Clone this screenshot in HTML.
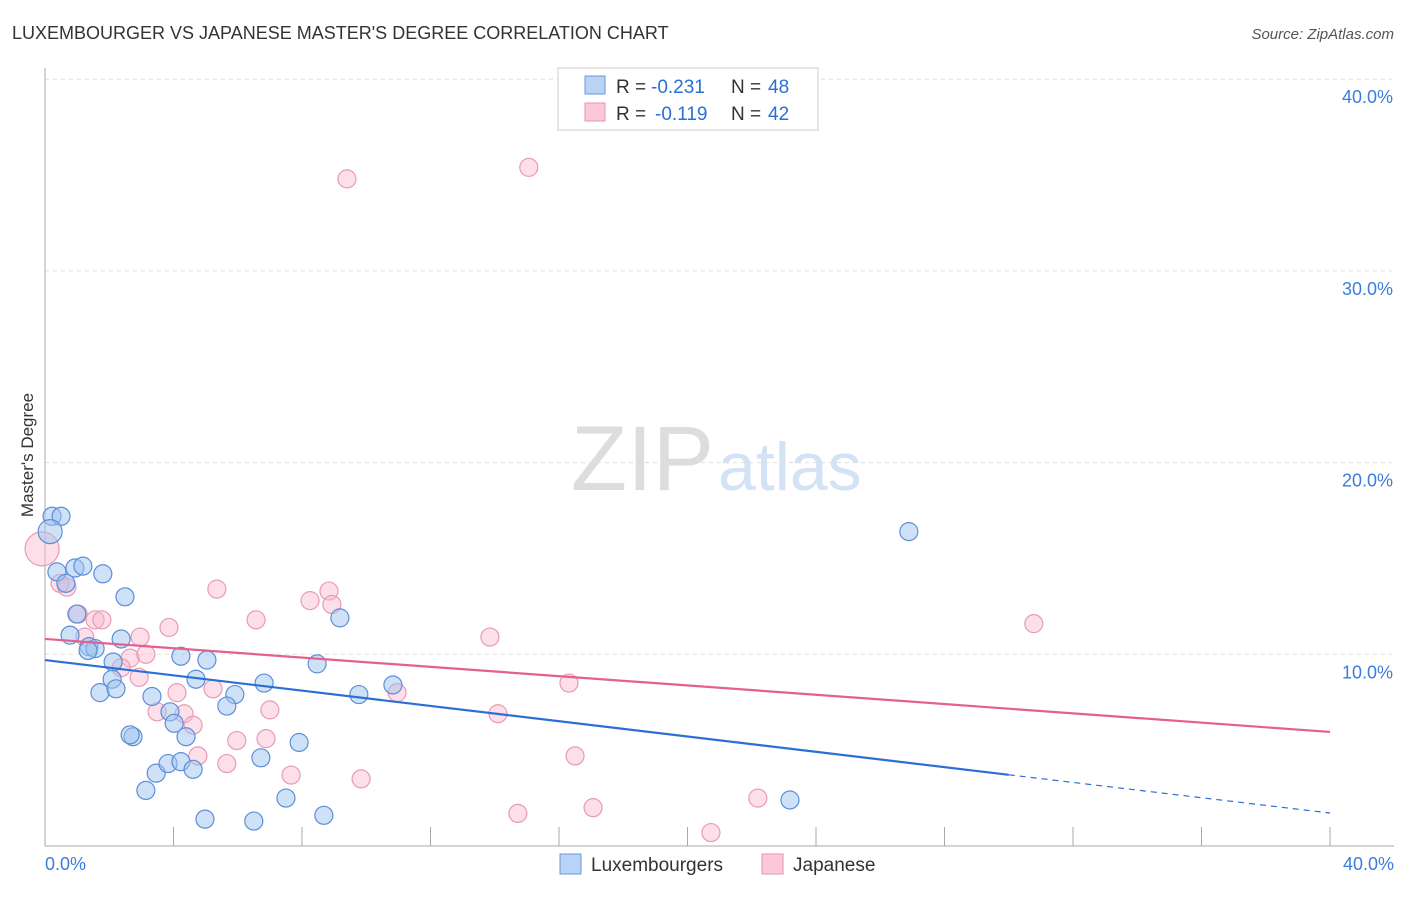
<!DOCTYPE html>
<html><head><meta charset="utf-8">
<style>
body{margin:0;background:#fff;font-family:"Liberation Sans",sans-serif;}
svg text{font-family:"Liberation Sans",sans-serif;}
</style></head>
<body>
<svg id="chart" width="1406" height="892" xmlns="http://www.w3.org/2000/svg">
<text x="12" y="39" font-size="18" fill="#333">LUXEMBOURGER VS JAPANESE MASTER'S DEGREE CORRELATION CHART</text>
<text x="1394" y="39" font-size="15" fill="#555" font-style="italic" text-anchor="end">Source: ZipAtlas.com</text>
<text transform="translate(33,455) rotate(-90)" font-size="17" fill="#333" text-anchor="middle">Master's Degree</text>
<text x="714" y="490" font-size="92" fill="#ddd" text-anchor="end" font-family="Liberation Serif">ZIP</text>
<text x="718" y="490" font-size="68" fill="#d3e2f5">atlas</text>
<g id="grid"></g><g id="axes"></g><g id="marks"></g>
<g>
<rect x="558" y="68" width="260" height="62" fill="#fff" stroke="#ccc"/>
<rect x="585" y="76" width="20" height="18" fill="#b8d3f5" stroke="#6a9ad8"/>
<rect x="585" y="103" width="20" height="18" fill="#fbc9da" stroke="#e890ae"/>
<text x="616" y="93" font-size="19" fill="#333">R =</text>
<text x="651" y="93" font-size="19" fill="#2a6fd6">-0.231</text>
<text x="731" y="93" font-size="19" fill="#333">N =</text>
<text x="768" y="93" font-size="19" fill="#2a6fd6">48</text>
<text x="616" y="120" font-size="19" fill="#333">R =</text>
<text x="655" y="120" font-size="19" fill="#2a6fd6">-0.119</text>
<text x="731" y="120" font-size="19" fill="#333">N =</text>
<text x="768" y="120" font-size="19" fill="#2a6fd6">42</text>
</g>
<g>
<rect x="560" y="854" width="21" height="20" fill="#b8d3f5" stroke="#6a9ad8"/>
<text x="591" y="871" font-size="19" fill="#333">Luxembourgers</text>
<rect x="762" y="854" width="21" height="20" fill="#fbc9da" stroke="#e890ae"/>
<text x="793" y="871" font-size="19" fill="#333">Japanese</text>
</g>
</svg>
<script>
const blueX=[0.22,0.5,0.16,0.37,0.93,1.18,1.8,0.65,2.49,0.99,0.78,2.37,1.37,1.56,1.34,2.12,4.23,5.04,2.09,1.71,2.21,3.33,4.7,5.91,6.82,8.47,9.77,10.83,5.66,3.89,4.02,4.39,2.74,2.65,7.91,6.72,3.46,3.83,4.23,4.61,3.14,7.5,4.98,6.5,8.68,23.19,26.89,9.18];
const blueY=[17.2,17.2,16.4,14.3,14.5,14.6,14.2,13.7,13.0,12.1,11.0,10.8,10.4,10.3,10.2,9.6,9.9,9.7,8.7,8.0,8.2,7.8,8.7,7.9,8.5,9.5,7.9,8.4,7.3,7.0,6.4,5.7,5.7,5.8,5.4,4.6,3.8,4.3,4.4,4.0,2.9,2.5,1.4,1.3,1.6,2.4,16.4,11.9];
const pinkX=[-0.09,0.47,0.68,1.03,1.56,1.77,1.24,2.96,2.65,3.14,3.86,5.35,6.57,8.25,8.84,8.93,13.85,30.78,9.4,15.06,2.37,2.93,3.49,4.11,4.33,5.23,4.61,7.0,6.88,5.97,4.76,5.66,7.66,9.84,10.96,14.1,16.31,16.5,14.72,17.06,22.19,20.73];
const pinkY=[15.5,13.7,13.5,12.1,11.8,11.8,10.9,10.9,9.8,10.0,11.4,13.4,11.8,12.8,13.3,12.6,10.9,11.6,34.8,35.4,9.3,8.8,7.0,8.0,6.9,8.2,6.3,7.1,5.6,5.5,4.7,4.3,3.7,3.5,8.0,6.9,8.5,4.7,1.7,2.0,2.5,0.7];
const blueR=[9,9,12,9,9,9,9,9,9,9,9,9,9,9,9,9,9,9,9,9,9,9,9,9,9,9,9,9,9,9,9,9,9,9,9,9,9,9,9,9,9,9,9,9,9,9,9,9];
const pinkR=[17,9,9,9,9,9,9,9,9,9,9,9,9,9,9,9,9,9,9,9,9,9,9,9,9,9,9,9,9,9,9,9,9,9,9,9,9,9,9,9,9,9];
const blueTrend=[9.7,1.72], pinkTrend=[10.8,5.95], blueSolidEnd=30;
const yTicks=[10,20,30,40];
const xTicks=[0,4,8,12,16,20,24,28,32,36,40];
const NS="http://www.w3.org/2000/svg";
const X=v=>45+v*32.125, Y=v=>846-v*19.17;
function mk(tag,attrs,parent){const e=document.createElementNS(NS,tag);for(const k in attrs)e.setAttribute(k,attrs[k]);parent.appendChild(e);return e;}
const grid=document.getElementById('grid'),axes=document.getElementById('axes'),marks=document.getElementById('marks');
yTicks.forEach(t=>{
 const l=mk('line',{x1:45,x2:1392,y1:Y(t),y2:Y(t),stroke:'#ddd','stroke-dasharray':'4,4'},grid);
 
 
 const tx=mk('text',{x:1393,y:Y(t)+24,'font-size':18,fill:'#3b7ddd','text-anchor':'end'},axes);tx.textContent=t.toFixed(1)+'%';
 
 
});
mk('line',{x1:45,x2:45,y1:68,y2:846,stroke:'#aaa'},axes);
mk('line',{x1:45,x2:1394,y1:846,y2:846,stroke:'#aaa'},axes);
xTicks.forEach(t=>{
 const l=mk('line',{x1:X(t),x2:X(t),y1:827,y2:846,stroke:'#aaa'},axes);
 
 
});
[[0,'start',45],[40,'end',1394]].forEach(([v,a,x])=>{
 const tx=mk('text',{x:x,y:870,'font-size':18,fill:'#3b7ddd','text-anchor':a},axes);tx.textContent=v.toFixed(1)+'%';
 
 
});
function pts(xs,ys,rs,fill,stroke,name){xs.forEach((x,i)=>{
 const c=mk('circle',{cx:X(x),cy:Y(ys[i]),r:rs[i],fill:fill,stroke:stroke,'stroke-width':1.2},marks);
 
 
});}
pts(pinkX,pinkY,pinkR,'rgba(248,185,206,0.45)','#e99ab5','japanese-point');
pts(blueX,blueY,blueR,'rgba(160,196,240,0.5)','#5b8fd8','luxembourger-point');
const ly=(tr,x)=>tr[0]+(tr[1]-tr[0])*x/40;
let l=mk('line',{x1:X(0),y1:Y(ly(pinkTrend,0)),x2:X(40),y2:Y(ly(pinkTrend,40)),stroke:'#e4608d','stroke-width':2.2},marks);


l=mk('line',{x1:X(0),y1:Y(ly(blueTrend,0)),x2:X(blueSolidEnd),y2:Y(ly(blueTrend,blueSolidEnd)),stroke:'#2a6fd6','stroke-width':2.2},marks);


l=mk('line',{x1:X(blueSolidEnd),y1:Y(ly(blueTrend,blueSolidEnd)),x2:X(40),y2:Y(ly(blueTrend,40)),stroke:'#2a6fd6','stroke-width':1.2,'stroke-dasharray':'6,5'},marks);


</script>
</body></html>
